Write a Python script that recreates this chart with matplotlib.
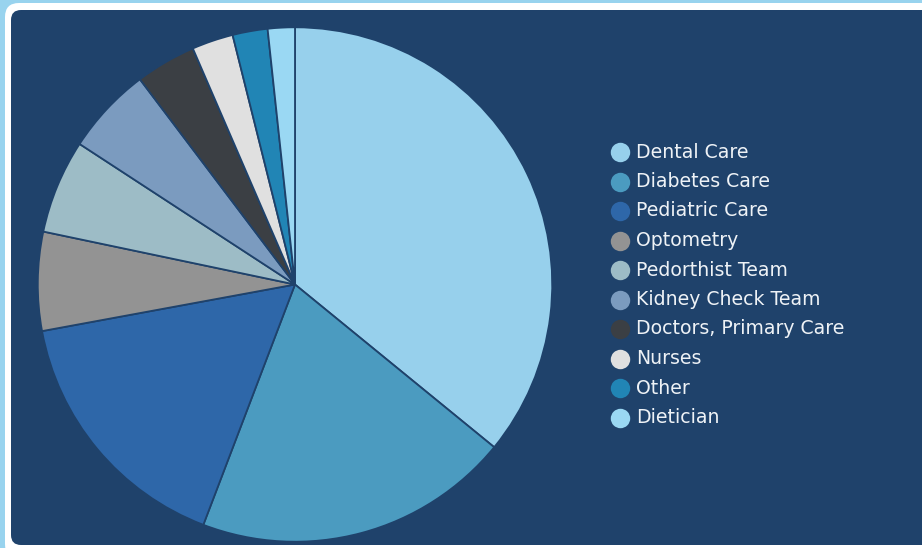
import matplotlib
matplotlib.use("Agg")
import matplotlib.pyplot as plt
from matplotlib.patches import FancyBboxPatch
from matplotlib.transforms import IdentityTransform

labels = ["Dental Care", "Diabetes Care", "Pediatric Care", "Optometry",
          "Pedorthist Team", "Kidney Check Team", "Doctors, Primary Care",
          "Nurses", "Other", "Dietician"]
values = [35.9, 19.9, 16.3, 6.2, 5.9, 5.5, 3.8, 2.6, 2.2, 1.7]
colors = ["#97d0ec", "#4b9bc0", "#2e67a9", "#939393", "#9dbcc6",
          "#7b9bbf", "#3b3f44", "#e0e0e0", "#2185b5", "#9ad8f3"]

navy = "#1f426b"
W, H = 922, 548

fig = plt.figure(figsize=(W / 100, H / 100), dpi=100, facecolor="#98d3ee")

# white frame and navy panel (pixel coords)
fig.patches.append(FancyBboxPatch((5, -10), 940, 555, boxstyle="round,pad=0,rounding_size=14",
                                  transform=IdentityTransform(), facecolor="white",
                                  edgecolor="none", zorder=-2))
fig.patches.append(FancyBboxPatch((11, 3), 930, 535, boxstyle="round,pad=0,rounding_size=10",
                                  transform=IdentityTransform(), facecolor=navy,
                                  edgecolor="none", zorder=-1))

cx, cy, r = 295, 284.5, 258.5
ax = fig.add_axes([(cx - r) / W, (H - cy - r) / H, 2 * r / W, 2 * r / H])
ax.set_facecolor("none")
ax.pie(values, colors=colors, startangle=90, counterclock=False, radius=1,
       wedgeprops=dict(edgecolor=navy, linewidth=1.3))
ax.set_xlim(-1.005, 1.005)
ax.set_ylim(-1.005, 1.005)
ax.set_aspect("equal")
ax.axis("off")

# legend
y0, dy = 152, 29.5
for i, (lab, col) in enumerate(zip(labels, colors)):
    y = 1 - (y0 + i * dy) / H
    fig.lines.append(plt.Line2D([619.5 / W], [y], marker="o", markersize=14,
                                markerfacecolor=col, markeredgecolor="none",
                                transform=fig.transFigure))
    fig.text(636 / W, y, lab, color="#eef2f6", fontsize=13.6, va="center",
             ha="left", family="DejaVu Sans")

fig.savefig("out.png", dpi=100, facecolor=fig.get_facecolor())
